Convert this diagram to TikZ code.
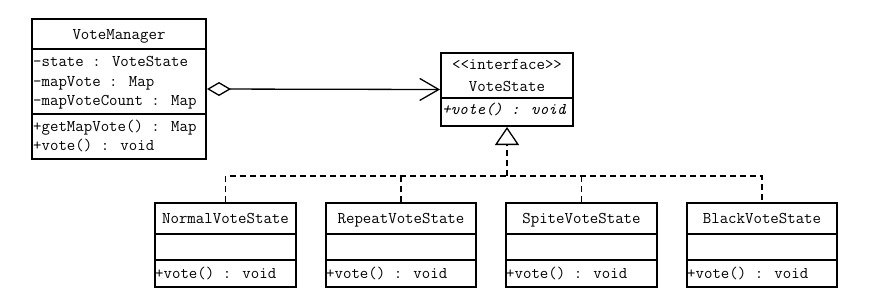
\documentclass[tikz,border=0pt]{standalone}
\usetikzlibrary{arrows.meta}
\newcommand\umlfont{\ttfamily\fontsize{16.4}{19.5}\selectfont}
\tikzset{
  classbox/.style={draw, line width=2pt, inner sep=0pt, minimum height=#1},
  divider/.style={line width=2pt},
  txt/.style={font=\umlfont, inner sep=0pt, anchor=base},
  member/.style={font=\umlfont, inner sep=0pt, anchor=base west},
  link/.style={line width=1.3pt},
  realize/.style={line width=1.3pt, dash pattern=on 6pt off 4pt},
}
\begin{document}
\begin{tikzpicture}[x=1pt, y=-1pt]
\useasboundingbox[fill=white] (0,0) rectangle (883,306);

% VoteManager class
\node[classbox=140pt, minimum width=174pt] (vm) at (119,89) {};
\draw[divider] (vm.west |- 0,49) -- (vm.east |- 0,49);
\draw[divider] (vm.west |- 0,114) -- (vm.east |- 0,114);
\node[txt] (vm-name) at (119,39.5) {VoteManager};
\node[member] (vm-a1) at (33,66.7) {-state : VoteState};
\node[member] (vm-a2) at (33,86) {-mapVote : Map};
\node[member] (vm-a3) at (33,105.5) {-mapVoteCount : Map};
\node[member] (vm-m1) at (33,131.5) {+getMapVote() : Map};
\node[member] (vm-m2) at (33,150.7) {+vote() : void};

% VoteState interface
\node[classbox=73pt, minimum width=132pt] (vs) at (507,89.5) {};
\draw[divider] (vs.west |- 0,98) -- (vs.east |- 0,98);
\node[txt] (vs-stereo) at (507,69) {<\kern0pt<interface>\kern0pt>};
\node[txt] (vs-name) at (507,91) {VoteState};
\node[member] (vs-m1) at (442,114) {\itshape +vote() : void};

% Concrete states
\foreach \n/\cx/\w/\title in {ns/225.5/141/NormalVoteState,
                              rs/401/150/RepeatVoteState,
                              ss/581.5/151/SpiteVoteState,
                              bs/762/150/BlackVoteState}{
  \node[classbox=84pt, minimum width=\w pt] (\n) at (\cx,245) {};
  \draw[divider] (\n.west |- 0,234) -- (\n.east |- 0,234);
  \draw[divider] (\n.west |- 0,260) -- (\n.east |- 0,260);
  \node[txt] (\n-name) at (\cx,223.3) {\title};
  \node[member] (\n-m1) at ([xshift=1pt]\n.west |- 0,278.3) {+vote() : void};
}

% Aggregation
\draw[link, {Diamond[open, length=24pt, width=14pt]}-{Straight Barb[length=19pt, width=22pt]}]
  (vm.east) -- (vs.west);

% Realization: one shared dashed bus, drops to each class, arrow up to the interface
\coordinate (bus) at (vs.south |- 0,176);
\draw[realize, -{Triangle[open, length=18pt, width=24pt]}] (bus) -- (vs.south);
\draw[realize] (ns.north) -- (ns.north |- bus) -- (bs.north |- bus) -- (bs.north);
\draw[realize] (rs.north) -- (rs.north |- bus);
\draw[realize] (ss.north) -- (ss.north |- bus);
\end{tikzpicture}
\end{document}
